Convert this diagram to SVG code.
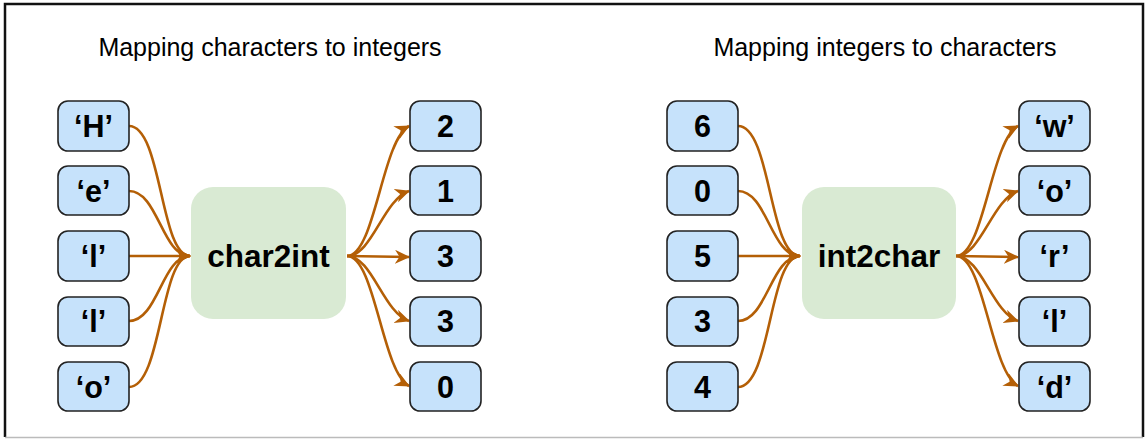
<svg xmlns="http://www.w3.org/2000/svg" width="1146" height="439" viewBox="0 0 1146 439">
<style>
.title{font-family:"Liberation Sans",Arial,sans-serif;font-size:25px;fill:#000;text-anchor:middle}
.box rect{fill:#c6e2fb;stroke:#222;stroke-width:1.6}
.box text{font-family:"Liberation Sans",Arial,sans-serif;font-size:30.5px;font-weight:bold;fill:#000;text-anchor:middle}
.fn rect{fill:#d9ead3;stroke:none}
.fn text{font-family:"Liberation Sans",Arial,sans-serif;font-size:31.5px;font-weight:bold;fill:#000;text-anchor:middle}
.edges path{fill:none;stroke:#b45f06;stroke-width:2.6}
</style>
<defs>
<marker id="arr" markerUnits="userSpaceOnUse" markerWidth="18" markerHeight="16" refX="14" refY="7" orient="auto">
<path d="M0,0 L15,7 L0,14 L4.5,7 z" fill="#b45f06"/>
</marker>
</defs>
<rect x="0" y="0" width="1146" height="439" fill="#fff"/>
<path d="M5,437 L5,4 L1143,4 L1143,437" fill="none" stroke="#111" stroke-width="2.5"/>
<line x1="5" y1="437.5" x2="1143" y2="437.5" stroke="#bbb" stroke-width="1.5"/>
<text class="title" x="270" y="56">Mapping characters to integers</text>
<text class="title" x="885" y="56">Mapping integers to characters</text>
<g class="edges">
<path d="M129,126 C162,126 160,256 190,256" marker-end="url(#arr)"/>
<path d="M129,191 C158,191 162,256 190,256" marker-end="url(#arr)"/>
<path d="M129,256 L190,256" marker-end="url(#arr)"/>
<path d="M129,321 C158,321 162,256 190,256" marker-end="url(#arr)"/>
<path d="M129,387 C162,387 160,256 190,256" marker-end="url(#arr)"/>
<path d="M347,256 C375,256 382,140 409,126" marker-end="url(#arr)"/>
<path d="M347,256 C372,256 383,200 409,191" marker-end="url(#arr)"/>
<path d="M347,256 L409,257" marker-end="url(#arr)"/>
<path d="M347,256 C372,256 383,312 409,321" marker-end="url(#arr)"/>
<path d="M347,256 C375,256 382,372 409,386" marker-end="url(#arr)"/>
<path d="M738,126 C771,126 769,256 800,256" marker-end="url(#arr)"/>
<path d="M738,191 C767,191 771,256 800,256" marker-end="url(#arr)"/>
<path d="M738,256 L800,256" marker-end="url(#arr)"/>
<path d="M738,321 C767,321 771,256 800,256" marker-end="url(#arr)"/>
<path d="M738,387 C771,387 769,256 800,256" marker-end="url(#arr)"/>
<path d="M956,256 C984,256 991,140 1018,126" marker-end="url(#arr)"/>
<path d="M956,256 C981,256 992,200 1018,191" marker-end="url(#arr)"/>
<path d="M956,256 L1018,257" marker-end="url(#arr)"/>
<path d="M956,256 C981,256 992,312 1018,321" marker-end="url(#arr)"/>
<path d="M956,256 C984,256 991,372 1018,386" marker-end="url(#arr)"/>
</g>
<g id="c2i" class="fn"><rect x="191" y="187" width="155" height="132" rx="22"/><text x="268.5" y="267">char2int</text></g>
<g id="i2c" class="fn"><rect x="802" y="187" width="154" height="132" rx="22"/><text x="879" y="267">int2char</text></g>
<g id="inH" class="box"><rect x="58" y="101" width="71" height="50" rx="10"/><text x="93.5" y="137">‘H’</text></g>
<g id="inE" class="box"><rect x="58" y="166" width="71" height="49" rx="10"/><text x="93.5" y="202">‘e’</text></g>
<g id="inL1" class="box"><rect x="58" y="231" width="71" height="50" rx="10"/><text x="93.5" y="267">‘l’</text></g>
<g id="inL2" class="box"><rect x="58" y="297" width="71" height="49" rx="10"/><text x="93.5" y="332">‘l’</text></g>
<g id="inO" class="box"><rect x="58" y="362" width="71" height="49" rx="10"/><text x="93.5" y="398">‘o’</text></g>
<g id="out2" class="box"><rect x="410" y="101" width="71" height="50" rx="10"/><text x="445.5" y="137">2</text></g>
<g id="out1" class="box"><rect x="410" y="166" width="71" height="49" rx="10"/><text x="445.5" y="202">1</text></g>
<g id="out3a" class="box"><rect x="410" y="231" width="71" height="50" rx="10"/><text x="445.5" y="267">3</text></g>
<g id="out3b" class="box"><rect x="410" y="297" width="71" height="49" rx="10"/><text x="445.5" y="332">3</text></g>
<g id="out0" class="box"><rect x="410" y="362" width="71" height="49" rx="10"/><text x="445.5" y="398">0</text></g>
<g id="in6" class="box"><rect x="667" y="101" width="71" height="50" rx="10"/><text x="702.5" y="137">6</text></g>
<g id="in0" class="box"><rect x="667" y="166" width="71" height="49" rx="10"/><text x="702.5" y="202">0</text></g>
<g id="in5" class="box"><rect x="667" y="231" width="71" height="50" rx="10"/><text x="702.5" y="267">5</text></g>
<g id="in3" class="box"><rect x="667" y="297" width="71" height="49" rx="10"/><text x="702.5" y="332">3</text></g>
<g id="in4" class="box"><rect x="667" y="362" width="71" height="49" rx="10"/><text x="702.5" y="398">4</text></g>
<g id="outW" class="box"><rect x="1019" y="101" width="71" height="50" rx="10"/><text x="1054.5" y="137">‘w’</text></g>
<g id="outO" class="box"><rect x="1019" y="166" width="71" height="49" rx="10"/><text x="1054.5" y="202">‘o’</text></g>
<g id="outR" class="box"><rect x="1019" y="231" width="71" height="50" rx="10"/><text x="1054.5" y="267">‘r’</text></g>
<g id="outL" class="box"><rect x="1019" y="297" width="71" height="49" rx="10"/><text x="1054.5" y="332">‘l’</text></g>
<g id="outD" class="box"><rect x="1019" y="362" width="71" height="49" rx="10"/><text x="1054.5" y="398">‘d’</text></g>
</svg>
